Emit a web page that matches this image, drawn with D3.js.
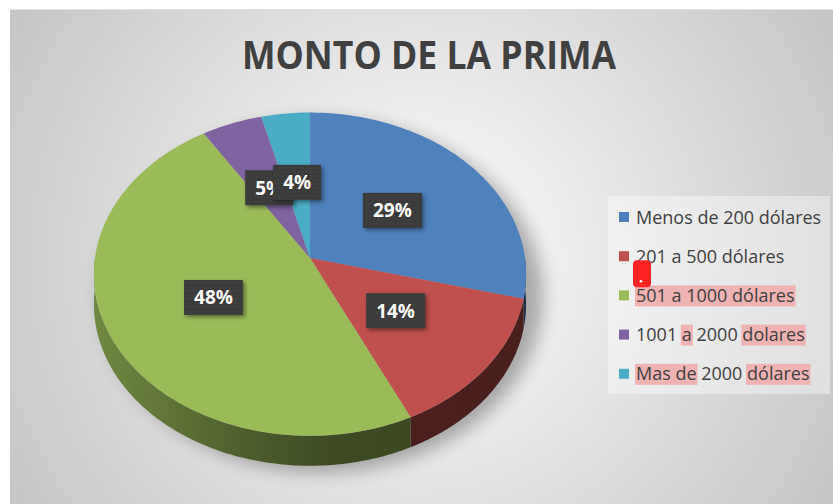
<!DOCTYPE html>
<html>
<head>
<meta charset="utf-8">
<script src="https://cdn.jsdelivr.net/npm/d3@7"></script>
<style>
  body { margin: 0; background: #fff; }
  svg { display: block; }
</style>
</head>
<body>
<div id="pie-chart"></div>
<script>
// ---- data ----
const title = "MONTO DE LA PRIMA";
const categories = ["Menos de 200 dólares", "201 a 500 dólares", "501 a 1000 dólares", "1001 a 2000 dolares", "Mas de 2000 dólares"];
const values = [29, 14, 48, 5, 4];
// words the spell checker marked in the original screenshot
const flagged = [[], [], ["501 a 1000 dólares"], ["a", "dolares"], ["Mas de", "dólares"]];

const palette = ["#4F81BD", "#C0504D", "#9BBB59", "#8064A2", "#4BACC6"];

let width = 833,
    height = 504;

// 3d pie geometry (perspective tilt)
let cx = 310, cy = 258, rx = 215, ry = 160, persp = 0.1, depth = 30;

let svg = d3.select("#pie-chart")
  .append("svg")
    .attr("width", width)
    .attr("height", height);

let defs = svg.append("defs");

let bg = defs.append("radialGradient")
  .attr("id", "bg")
  .attr("gradientUnits", "userSpaceOnUse")
  .attr("cx", 420).attr("cy", 260).attr("r", 470);
bg.append("stop").attr("offset", 0).attr("stop-color", "#ffffff");
bg.append("stop").attr("offset", 1).attr("stop-color", "#c6c6c6");

defs.append("filter").attr("id", "soft")
  .attr("x", "-20%").attr("y", "-20%").attr("width", "140%").attr("height", "140%")
  .append("feGaussianBlur").attr("stdDeviation", 9);

defs.append("filter").attr("id", "boxShadow")
  .attr("x", "-30%").attr("y", "-30%").attr("width", "160%").attr("height", "160%")
  .append("feDropShadow")
    .attr("dx", 2).attr("dy", 2).attr("stdDeviation", 2)
    .attr("flood-color", "#000").attr("flood-opacity", 0.45);

let dots = defs.append("pattern").attr("id", "dots")
  .attr("patternUnits", "userSpaceOnUse").attr("width", 4).attr("height", 4);
dots.append("rect").attr("width", 4).attr("height", 4).attr("fill", "#3b3b3b");
dots.append("rect").attr("x", 1).attr("y", 1).attr("width", 1).attr("height", 1).attr("fill", "#4c4c4c");

// chart area
svg.append("rect")
  .attr("x", 10).attr("y", 10)
  .attr("width", width - 10).attr("height", height - 10)
  .attr("fill", "url(#bg)");
svg.append("line")
  .attr("x1", 10).attr("x2", width).attr("y1", 9.5).attr("y2", 9.5)
  .attr("stroke", "#e2e2e2");

// title
svg.append("text")
  .attr("x", 429).attr("y", 69)
  .attr("text-anchor", "middle")
  .attr("textLength", 374)
  .attr("lengthAdjust", "spacingAndGlyphs")
  .style("font-family", "'Open Sans', sans-serif")
  .style("font-weight", "bold")
  .style("font-size", "39px")
  .attr("fill", "#404040")
  .text(title);

let color = d3.scaleOrdinal()
  .domain(categories)
  .range(palette);

let dataJSON = categories.map((name, i) => ({name: name, value: values[i]}));
let total = d3.sum(values);
let pct = d3.format(".0%");

const pie = d3.pie()
  .value(d => d.value)
  .sort(null)
  .startAngle(0)
  .endAngle(2 * Math.PI);
const slices = pie(dataJSON);

// angle measured clockwise from 12 o'clock, r as fraction of radius
function proj(a, r) {
  let u = r * Math.sin(a), v = -r * Math.cos(a);
  let s = 1 / (1 - persp * v);
  return [cx + rx * u * s, cy + ry * v * s];
}
function arcPts(a0, a1, r, dy) {
  let n = Math.max(2, Math.ceil((a1 - a0) / (Math.PI / 180)));
  return d3.range(n + 1).map(i => {
    let p = proj(a0 + (a1 - a0) * i / n, r);
    return [p[0], p[1] + (dy || 0)];
  });
}
const line = d3.line();

// shadow under the pie
let chart = svg.append("g");
chart.append("ellipse")
  .attr("cx", cx + 12).attr("cy", cy + 38)
  .attr("rx", rx + 6).attr("ry", ry + 16)
  .attr("fill", "#000").attr("opacity", 0.3)
  .attr("filter", "url(#soft)");

// side walls (front half only)
slices.forEach((s, i) => {
  let a0 = Math.max(s.startAngle, Math.PI / 2),
      a1 = Math.min(s.endAngle, 3 * Math.PI / 2);
  if (a1 <= a0) return;
  let c = d3.color(color(s.data.name));
  let g = defs.append("linearGradient")
    .attr("id", "side" + i)
    .attr("gradientUnits", "userSpaceOnUse")
    .attr("x1", cx - rx).attr("x2", cx + rx).attr("y1", 0).attr("y2", 0);
  [[0, 0.9], [0.36, 1.95], [0.55, 2.6], [1, 2.7]].forEach(st => {
    g.append("stop").attr("offset", st[0]).attr("stop-color", c.darker(st[1]));
  });
  let pts = arcPts(a0, a1, 1, 0).concat(arcPts(a0, a1, 1, depth).reverse());
  chart.append("path")
    .attr("d", line(pts) + "Z")
    .attr("fill", "url(#side" + i + ")");
});

// top faces
chart.selectAll("path.top")
  .data(slices)
  .enter()
  .append("path")
    .attr("class", "top")
    .attr("d", s => line([[cx, cy]].concat(arcPts(s.startAngle, s.endAngle, 1, 0))) + "Z")
    .attr("fill", s => color(s.data.name));

// data labels, at half radius on the mid angle
let labels = svg.append("g");
slices.forEach(s => {
  let mid = (s.startAngle + s.endAngle) / 2;
  let p = proj(mid, 0.5);
  let g = labels.append("g")
    .attr("transform", `translate(${p[0]},${p[1]})`);
  let rect = g.append("rect").attr("fill", "url(#dots)").attr("filter", "url(#boxShadow)");
  let t = g.append("text")
    .attr("text-anchor", "middle")
    .attr("y", 7)
    .attr("fill", "#fff")
    .style("font-family", "'Open Sans', sans-serif")
    .style("font-weight", "bold")
    .style("font-size", "19px")
    .text(pct(s.data.value / total));
  let w = t.node().getComputedTextLength() + 20;
  rect.attr("x", -w / 2).attr("y", -17.5).attr("width", w).attr("height", 35);
});

// legend
const rowH = 39.2;
let legend = svg.append("g")
  .attr("transform", "translate(619,217)");

legend.append("rect")
  .attr("x", -11).attr("y", -21)
  .attr("width", 222).attr("height", rowH * categories.length + 2)
  .attr("fill", "#fff").attr("opacity", 0.4);

let rows = legend.selectAll("g.row")
  .data(dataJSON)
  .enter()
  .append("g")
    .attr("class", "row")
    .attr("transform", (d, i) => `translate(0,${i * rowH})`);

rows.append("g").attr("class", "hl");

rows.append("rect")
  .attr("x", 0).attr("y", -5)
  .attr("width", 10).attr("height", 10)
  .attr("fill", d => color(d.name));

rows.append("text")
  .attr("x", 17).attr("y", 6.5)
  .style("font-family", "'Open Sans', sans-serif")
  .style("font-size", "18px")
  .attr("fill", "#404040")
  .text(d => d.name);

// spell-check highlights behind flagged words
rows.each(function(d, i) {
  let row = d3.select(this);
  let tn = row.select("text").node();
  flagged[i].forEach(word => {
    let idx = d.name.indexOf(word);
    if (idx < 0) return;
    let x0 = idx > 0 ? tn.getSubStringLength(0, idx) : 0;
    let w = tn.getSubStringLength(idx, word.length);
    row.select("g.hl").append("rect")
      .attr("x", 17 + x0 - 1).attr("y", -10)
      .attr("width", w + 2).attr("height", 21)
      .attr("fill", "#efb3b3");
  });
});

// red touch marker seen in the screenshot
let marker = legend.append("g").attr("transform", `translate(14,${rowH + 4})`);
marker.append("rect")
  .attr("width", 18).attr("height", 27).attr("rx", 4)
  .attr("fill", "#ff2424");
marker.append("circle")
  .attr("cx", 8).attr("cy", 21).attr("r", 1.3)
  .attr("fill", "#fff");
</script>
</body>
</html>
